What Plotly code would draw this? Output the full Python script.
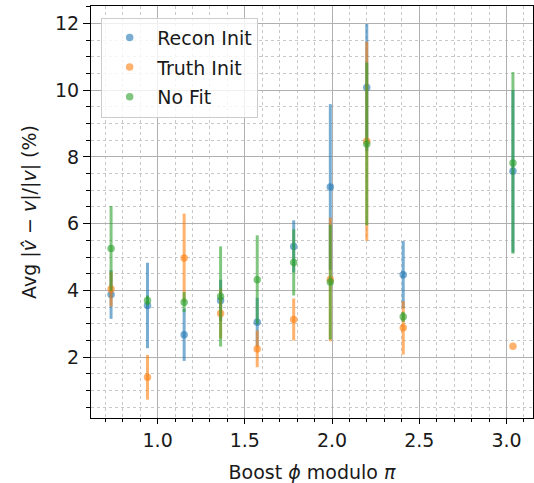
import plotly.graph_objects as go

# Bin centres (Boost phi modulo pi)
phi_bins = [0.733, 0.942, 1.152, 1.361, 1.571, 1.780, 1.990, 2.199, 2.408, 3.037]

recon_init = [3.88, 3.55, 2.67, 3.70, 3.05, 5.32, 7.10, 10.08, 4.47, 7.57]
recon_err = [0.73, 1.28, 0.78, 0.62, 0.73, 0.78, 2.48, 1.90, 1.01, 2.43]

truth_init = [4.04, 1.40, 4.97, 3.31, 2.25, 3.13, 4.33, 8.47, 2.88, 2.33]
truth_err = [0.52, 0.67, 1.33, 0.75, 0.55, 0.63, 1.85, 2.98, 0.80, 0.0]

no_fit = [5.26, 3.70, 3.65, 3.82, 4.32, 4.84, 4.25, 8.39, 3.21, 7.82]
no_fit_err = [1.27, 0.15, 0.30, 1.50, 1.33, 0.99, 1.72, 2.44, 0.15, 2.72]

series = [
    ("Recon Init", recon_init, recon_err, "rgba(31,119,180,0.6)"),
    ("Truth Init", truth_init, truth_err, "rgba(255,127,14,0.6)"),
    ("No Fit", no_fit, no_fit_err, "rgba(44,160,44,0.6)"),
]

FONT = "DejaVu Sans"
TXT = "#1a1a1a"

fig = go.Figure()
for i, (name, vals, errs, col) in enumerate(series):
    fig.add_trace(go.Scatter(
        x=phi_bins, y=vals, name=name, mode="markers",
        legendgroup=f"g{i}",
        marker=dict(color=col, size=7.5, line=dict(width=0)),
        error_y=dict(type="data", array=errs, visible=True, color=col,
                     thickness=3, width=0),
    ))

fig.update_layout(
    width=534, height=483,
    margin=dict(l=90.5, r=1, t=6, b=65),
    paper_bgcolor="white", plot_bgcolor="white",
    font=dict(family=FONT, size=19, color=TXT),
    showlegend=True,
    legend=dict(
        x=0.023, y=0.972, xanchor="left", yanchor="top",
        bgcolor="rgba(255,255,255,0.8)", bordercolor="#cccccc", borderwidth=1,
        font=dict(family=FONT, size=19, color=TXT),
        tracegroupgap=2, itemwidth=45, entrywidth=106,
    ),
)

fig.update_xaxes(
    range=[0.618, 3.152],
    tick0=0, dtick=0.5, tickformat=".1f",
    ticks="outside", ticklen=5, tickwidth=1, tickcolor="black",
    showline=True, linecolor="black", linewidth=1.2, mirror=True,
    showgrid=True, gridcolor="#b0b0b0", gridwidth=1.2,
    zeroline=False,
    minor=dict(dtick=0.1, tick0=0, ticks="outside", ticklen=3, tickcolor="black",
               showgrid=True, gridcolor="#c8c8c8", griddash="dot", gridwidth=1),
    title=dict(text="Boost <i>ϕ</i> modulo <i>π</i>", standoff=16,
               font=dict(family=FONT, size=19, color=TXT)),
    tickfont=dict(family=FONT, size=19, color=TXT),
    automargin=False,
)

fig.update_yaxes(
    range=[0.18, 12.52],
    tick0=0, dtick=2,
    ticks="outside", ticklen=7, tickwidth=1, tickcolor="black",
    showline=True, linecolor="black", linewidth=1.2, mirror=True,
    showgrid=True, gridcolor="#b0b0b0", gridwidth=1.2,
    zeroline=False,
    minor=dict(dtick=0.5, tick0=0, ticks="outside", ticklen=4, tickcolor="black",
               showgrid=True, gridcolor="#c8c8c8", griddash="dot", gridwidth=1),
    title=dict(text="Avg |<i>v̂</i> − <i>v</i>|/|<i>v</i>| (%)", standoff=13,
               font=dict(family=FONT, size=19, color=TXT)),
    tickfont=dict(family=FONT, size=19, color=TXT),
    automargin=False,
)

fig.write_html("out.html", config={"displayModeBar": False},
               post_script="document.body.style.margin='0';document.body.style.padding='0';")
